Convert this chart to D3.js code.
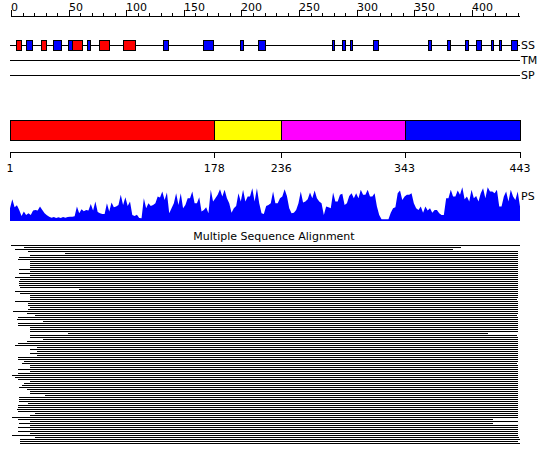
<!DOCTYPE html>
<meta charset="utf-8">
<head>
  <script src="https://d3js.org/d3.v7.min.js"></script>
  <style>
    body { margin: 0; background: #fff; }
    text { font-family: 'DejaVu Sans', sans-serif; font-size: 11px; fill: #000; }
  </style>
</head>

<div id="my_dataviz"></div>

<script>
  // ---- data (residue numbers) ----
  var seqLength = 443;
  var rulerTicks = d3.range(0, 441, 10);
  var rulerLabels = [0, 50, 100, 150, 200, 250, 300, 350, 400];

  // secondary structure: red = helix, blue = strand
  var helixStart = [6, 28, 55, 78, 99];
  var helixEnd   = [10, 32, 64, 87, 109];
  var strandStart = [15, 38, 51, 68, 134, 168, 200, 216, 280, 289, 296, 316, 363, 380, 395, 405, 418, 425, 435];
  var strandEnd   = [20, 45, 55, 71, 138, 177, 203, 222, 282, 292, 298, 320, 366, 383, 398, 409, 420, 427, 440];
  var trackNames = ["SS", "TM", "SP"];

  // domains
  var domainStart = [1, 178, 236, 343];
  var domainEnd   = [178, 236, 343, 443];
  var domainTicks = [1, 178, 236, 343, 443];

  // PS profile, one value every 2nd residue (1, 3, 5 ... 443)
  var psValues = [
    38,65,41,47,33,15,28,18,23,18, 31,33,31,43,33,23,17,13,10,12,
    9,11,9,12,10,12,13,13,14,43, 23,35,29,33,31,51,31,58,27,23,
    21,21,53,28,55,41,43,48,78,48, 71,45,58,18,15,19,9,8,68,38,
    53,45,48,53,73,70,88,63,85,23, 38,53,83,48,
    83,38,48,68,68,88,53,53,71,28, 33,41,23,93,58,68,78,95,73,93,
    68,53,25,38,45,83,58,93,58,73, 73,98,58,98,53,23,21,45,48,53,
    88,53,53,68,73,95,75,38,23,25, 33,53,88,55,58,65,85,68,91,68,
    58,53,18,43,41,38,85,58,58,78, 81,48,53,75,83,
    68,83,68,93,78,78,93,73,73,83, 43,18,5,5,5,5,25,38,41,83,
    91,63,73,78,78,83,53,38,33,43, 25,43,31,38,25,33,33,23,18,18,
    68,68,93,73,73,91,78,101,65,73, 58,93,68,75,58,83,98,68,101,88,
    88,83,93,43,43,73,88,58,93,73, 63,88,43
  ];

  // multiple sequence alignment: start / end residue of each aligned sequence
  var msaStart = [
    2,13,5,17,49,18,9,8,18,18, 18,18,9,18,9,18,5,10,9,9,
    9,10,61,5,10,18,18,18,5,17, 17,18,17,4,16,23,8,7,30,8,
    8,18,18,18,51,18,18,30,16,8, 5,24,18,24,18,24,8,8,13,11,
    18,18,8,18,8,3,5,8,18,13, 11,9,16,18,18,31,9,9,9,17,
    8,8,7,8,23,18,3,8,18,9, 18,8,18,8,18,3,23,10,10,10
  ];
  var msaEnd = [
    443,392,385,441,441,441,441,441,441,441, 441,441,441,441,441,441,441,441,441,441,
    441,441,441,441,441,441,441,440,441,441, 441,441,441,441,441,440,441,441,441,441,
    441,441,441,441,415,440,441,441,441,441, 441,441,441,441,441,441,441,441,441,440,
    441,441,441,441,441,441,441,441,441,441, 441,441,441,441,441,441,441,441,441,441,
    441,441,441,441,441,441,441,420,441,420, 441,441,441,441,441,441,442,443,441,443
  ];

  // ---- drawing ----
  var width = 550, height = 465;

  var svg = d3.select("#my_dataviz")
    .append("svg")
    .attr("width", width)
    .attr("height", height);

  svg.append("rect").attr("width", width).attr("height", height).attr("fill", "#fff");

  var x = d3.scaleLinear().domain([1, seqLength]).range([10, 520]);
  var xr = d3.scaleLinear().domain([0, 440]).range([11, 518]);

  // ruler
  var ruler = svg.append("g").attr("shape-rendering", "crispEdges");
  ruler.append("line")
    .attr("x1", xr(0)).attr("x2", 520)
    .attr("y1", 16.5).attr("y2", 16.5)
    .attr("stroke", "#000");
  ruler.selectAll(".tick")
    .data(rulerTicks)
    .enter().append("line")
    .attr("x1", function (d) { return Math.round(xr(d)) + 0.5; })
    .attr("x2", function (d) { return Math.round(xr(d)) + 0.5; })
    .attr("y1", function (d) { return d % 50 === 0 ? 10 : 13; })
    .attr("y2", 16.5)
    .attr("stroke", "#000");
  svg.selectAll(".rlab")
    .data(rulerLabels)
    .enter().append("text")
    .attr("x", function (d) { return Math.round(xr(d)); })
    .attr("y", 11)
    .text(function (d) { return d; });

  // track lines
  var trackY = d3.scalePoint().domain(trackNames).range([45, 75]);
  svg.selectAll(".track")
    .data(trackNames)
    .enter().append("line")
    .attr("x1", x(1)).attr("x2", x(seqLength))
    .attr("y1", function (d) { return trackY(d) + 0.5; })
    .attr("y2", function (d) { return trackY(d) + 0.5; })
    .attr("stroke", "#000")
    .attr("shape-rendering", "crispEdges");
  svg.selectAll(".tlab")
    .data(trackNames)
    .enter().append("text")
    .attr("x", 521)
    .attr("y", function (d) { return trackY(d) + 4; })
    .text(function (d) { return d; });

  // secondary structure boxes
  function ssBoxes(starts, ends, color) {
    svg.append("g").selectAll("rect")
      .data(d3.range(starts.length))
      .enter().append("rect")
      .attr("x", function (i) { return Math.round(x(starts[i])) + 0.5; })
      .attr("width", function (i) { return Math.max(2, Math.round(x(ends[i]) - x(starts[i]))); })
      .attr("y", 40.5)
      .attr("height", 10)
      .attr("fill", color)
      .attr("stroke", "#000")
      .attr("shape-rendering", "crispEdges");
  }
  ssBoxes(strandStart, strandEnd, "#0000ff");
  ssBoxes(helixStart, helixEnd, "#ff0000");

  // domain bar
  var domColor = d3.scaleOrdinal()
    .domain(d3.range(domainStart.length))
    .range(["#ff0000", "#ffff00", "#ff00ff", "#0000ff"]);
  svg.append("g").selectAll("rect")
    .data(d3.range(domainStart.length))
    .enter().append("rect")
    .attr("x", function (i) { return Math.round(x(domainStart[i])) + 0.5; })
    .attr("width", function (i) { return Math.round(x(domainEnd[i])) - Math.round(x(domainStart[i])); })
    .attr("y", 120.5)
    .attr("height", 20)
    .attr("fill", function (i) { return domColor(i); })
    .attr("stroke", "#000")
    .attr("shape-rendering", "crispEdges");

  var dAxis = svg.append("g").attr("shape-rendering", "crispEdges");
  dAxis.append("line")
    .attr("x1", x(1)).attr("x2", x(seqLength))
    .attr("y1", 152.5).attr("y2", 152.5)
    .attr("stroke", "#000");
  dAxis.selectAll(".dt")
    .data(domainTicks)
    .enter().append("line")
    .attr("x1", function (d) { return Math.round(x(d)) + 0.5; })
    .attr("x2", function (d) { return Math.round(x(d)) + 0.5; })
    .attr("y1", 152).attr("y2", 158)
    .attr("stroke", "#000");
  svg.selectAll(".dlab")
    .data(domainTicks)
    .enter().append("text")
    .attr("x", function (d) { return x(d); })
    .attr("y", 172)
    .attr("text-anchor", "middle")
    .text(function (d) { return d; });

  // PS profile
  var yPs = d3.scaleLinear().domain([0, 100]).range([221, 187.5]);
  svg.append("path")
    .datum(psValues)
    .attr("fill", "#0000ff")
    .attr("stroke", "none")
    .attr("d", d3.area()
      .x(function (d, i) { return x(1 + 2 * i); })
      .y0(yPs(0))
      .y1(function (d) { return yPs(d); }));
  svg.append("text").attr("x", 521).attr("y", 200).text("PS");

  // multiple sequence alignment
  svg.append("text")
    .attr("x", 274)
    .attr("y", 240)
    .attr("text-anchor", "middle")
    .text("Multiple Sequence Alignment");

  var rowY = d3.scaleLinear().domain([0, msaStart.length - 1]).range([245, 443]);
  svg.append("g").selectAll("line")
    .data(d3.range(msaStart.length))
    .enter().append("line")
    .attr("x1", function (i) { return x(msaStart[i]); })
    .attr("x2", function (i) { return x(msaEnd[i]); })
    .attr("y1", function (i) { return rowY(i) + 0.5; })
    .attr("y2", function (i) { return rowY(i) + 0.5; })
    .attr("stroke", "#000")
    .attr("shape-rendering", "crispEdges");
</script>
